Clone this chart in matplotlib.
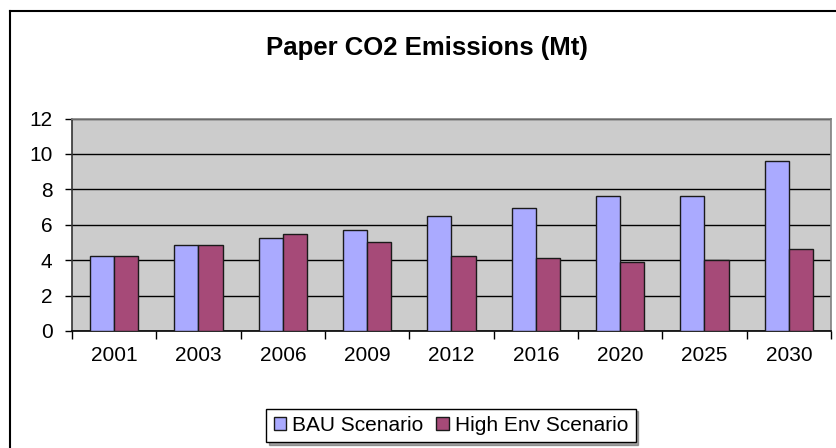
import numpy as np
import matplotlib.pyplot as plt
from matplotlib.lines import Line2D

plt.rcParams['font.family'] = ['Liberation Sans', 'DejaVu Sans']

years = ["2001", "2003", "2006", "2009", "2012", "2016", "2020", "2025", "2030"]
bau = [4.23, 4.85, 5.26, 5.68, 6.51, 6.92, 7.64, 7.64, 9.62]
high_env = [4.23, 4.85, 5.47, 5.05, 4.23, 4.11, 3.92, 4.02, 4.62]

W, H = 837, 448
fig = plt.figure(figsize=(W / 100, H / 100), dpi=100)
ax = fig.add_axes([72 / W, 1 - 331 / H, (831 - 72) / W, (331 - 118.5) / H])
ax.set_facecolor("#CCCCCC")

x = np.arange(len(years))
bw = 0.285
ax.bar(x - bw / 2, bau, bw, color="#AAAAFF", edgecolor="#1a1a1a", linewidth=1.0,
       label="BAU Scenario", zorder=3)
ax.bar(x + bw / 2, high_env, bw, color="#A64A78", edgecolor="#1a1a1a", linewidth=1.0,
       label="High Env Scenario", zorder=3)

ax.set_xlim(-0.5, len(years) - 0.5)
ax.set_ylim(0, 12)
ax.set_yticks(np.arange(0, 13, 2))
ax.yaxis.grid(True, color="black", linewidth=1.0, zorder=1)
ax.set_axisbelow(True)

# categories sit between tick marks
ax.set_xticks(np.arange(-0.5, len(years), 1.0))
ax.set_xticklabels([])
ax.set_xticks(x, minor=True)
ax.set_xticklabels(years, minor=True, fontsize=15)
ax.tick_params(axis="x", which="major", direction="out", length=6, width=1, color="black")
ax.tick_params(axis="x", which="minor", length=0, pad=11)
ax.tick_params(axis="y", direction="out", length=5, width=1, labelsize=15, pad=9)

ax.spines["left"].set_color("#333333")
ax.spines["bottom"].set_color("black")
ax.spines["top"].set_color("#808080")
ax.spines["right"].set_color("#808080")
for s in ax.spines.values():
    s.set_linewidth(1.2)

fig.text(427 / W, 1 - 47.5 / H, "Paper CO2 Emissions (Mt)", ha="center", va="center",
         fontsize=18.5, fontweight="bold")

leg = fig.legend(loc="center", bbox_to_anchor=(451 / W, 1 - 425.5 / H), ncol=2,
                 fontsize=15, frameon=True, fancybox=False, edgecolor="black",
                 handlelength=0.6, handleheight=0.6, handletextpad=0.3,
                 columnspacing=0.6, borderpad=0.35, borderaxespad=0, shadow=True)
leg.get_frame().set_linewidth(1.0)

# outer chart border (top and left edges)
fig.add_artist(Line2D([9.5 / W, 1], [1 - 11 / H, 1 - 11 / H], color="black", linewidth=1.5))
fig.add_artist(Line2D([9.5 / W, 9.5 / W], [0, 1 - 11 / H], color="black", linewidth=1.5))

fig.savefig("out.png", dpi=100)
